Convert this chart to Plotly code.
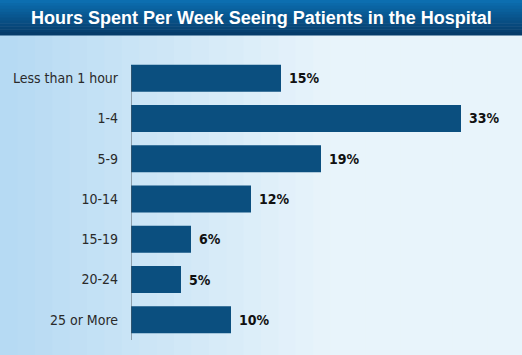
import plotly.graph_objects as go

categories = ["Less than 1 hour", "1-4", "5-9", "10-14", "15-19", "20-24", "25 or More"]
values = [15, 33, 19, 12, 6, 5, 10]
value_labels = ["15%", "33%", "19%", "12%", "6%", "5%", "10%"]
title_text = "Hours Spent Per Week Seeing Patients in the Hospital"

W, H = 522, 355
ML, MR, MT, MB = 131, 0, 58, 15
PW, PH = W - ML - MR, H - MT - MB

def px2paper_x(px):
    return (px - ML) / PW

def px2paper_y(py):
    return 1 - (py - MT) / PH

COND = "DejaVu Sans Condensed, Liberation Sans Narrow, Arial Narrow, sans-serif"

fig = go.Figure()
fig.add_trace(go.Bar(
    x=values, y=categories, orientation="h",
    marker=dict(color="#0b4f7f", line=dict(width=0)),
    hoverinfo="skip",
))

shapes = []
n = 30
c0 = (182, 218, 243)
c1 = (232, 244, 251)
for i in range(n):
    t = i / (n - 1)
    c = tuple(int(c0[k] + (c1[k] - c0[k]) * min(1, t * 1.6)) for k in range(3))
    shapes.append(dict(type="rect", xref="paper", yref="paper", layer="below",
                       x0=px2paper_x(W * i / n), x1=px2paper_x(W * (i + 1) / n + 1),
                       y0=px2paper_y(H + 2), y1=px2paper_y(35),
                       fillcolor="rgb(%d,%d,%d)" % c, line=dict(width=0)))
m = 12
t0 = (12, 110, 176)
t1 = (6, 60, 106)
for i in range(m):
    t = i / (m - 1)
    c = tuple(int(t0[k] + (t1[k] - t0[k]) * t) for k in range(3))
    shapes.append(dict(type="rect", xref="paper", yref="paper", layer="above",
                       x0=px2paper_x(0), x1=px2paper_x(W),
                       y0=px2paper_y(35 * (i + 1) / m + 0.5), y1=px2paper_y(35 * i / m),
                       fillcolor="rgb(%d,%d,%d)" % c, line=dict(width=0)))
shapes.append(dict(type="line", xref="x", yref="paper", x0=0, x1=0,
                   y0=px2paper_y(340), y1=px2paper_y(66),
                   line=dict(color="#555a60", width=1)))

annotations = [dict(x=v, y=c, text="<b>" + l + "</b>", xanchor="left", yanchor="middle", xshift=6,
                    showarrow=False,
                    font=dict(family=COND, size=14, color="#111111"))
               for v, c, l in zip(values, categories, value_labels)]
annotations.append(dict(xref="paper", yref="paper", x=px2paper_x(W / 2), y=px2paper_y(18),
                        text="<b>" + title_text + "</b>", showarrow=False,
                        xanchor="center", yanchor="middle",
                        font=dict(family="Liberation Sans, Arial, sans-serif", size=18,
                                  color="white")))

fig.update_layout(
    width=W, height=H,
    margin=dict(l=ML, r=MR, t=MT, b=MB),
    paper_bgcolor="#dcedf8", plot_bgcolor="rgba(0,0,0,0)",
    showlegend=False, bargap=0.33,
    xaxis=dict(range=[0, PW / 10], visible=False, fixedrange=True, automargin=False),
    yaxis=dict(autorange="reversed", showgrid=False, zeroline=False, showline=False,
               ticks="", ticklabelstandoff=12, automargin=False,
               tickfont=dict(family=COND, size=14, color="#2a2a2a")),
    shapes=shapes, annotations=annotations,
)

fig.write_html("out.html", config={"displayModeBar": False},
               post_script="document.body.style.margin='0';document.body.style.overflow='hidden';")
